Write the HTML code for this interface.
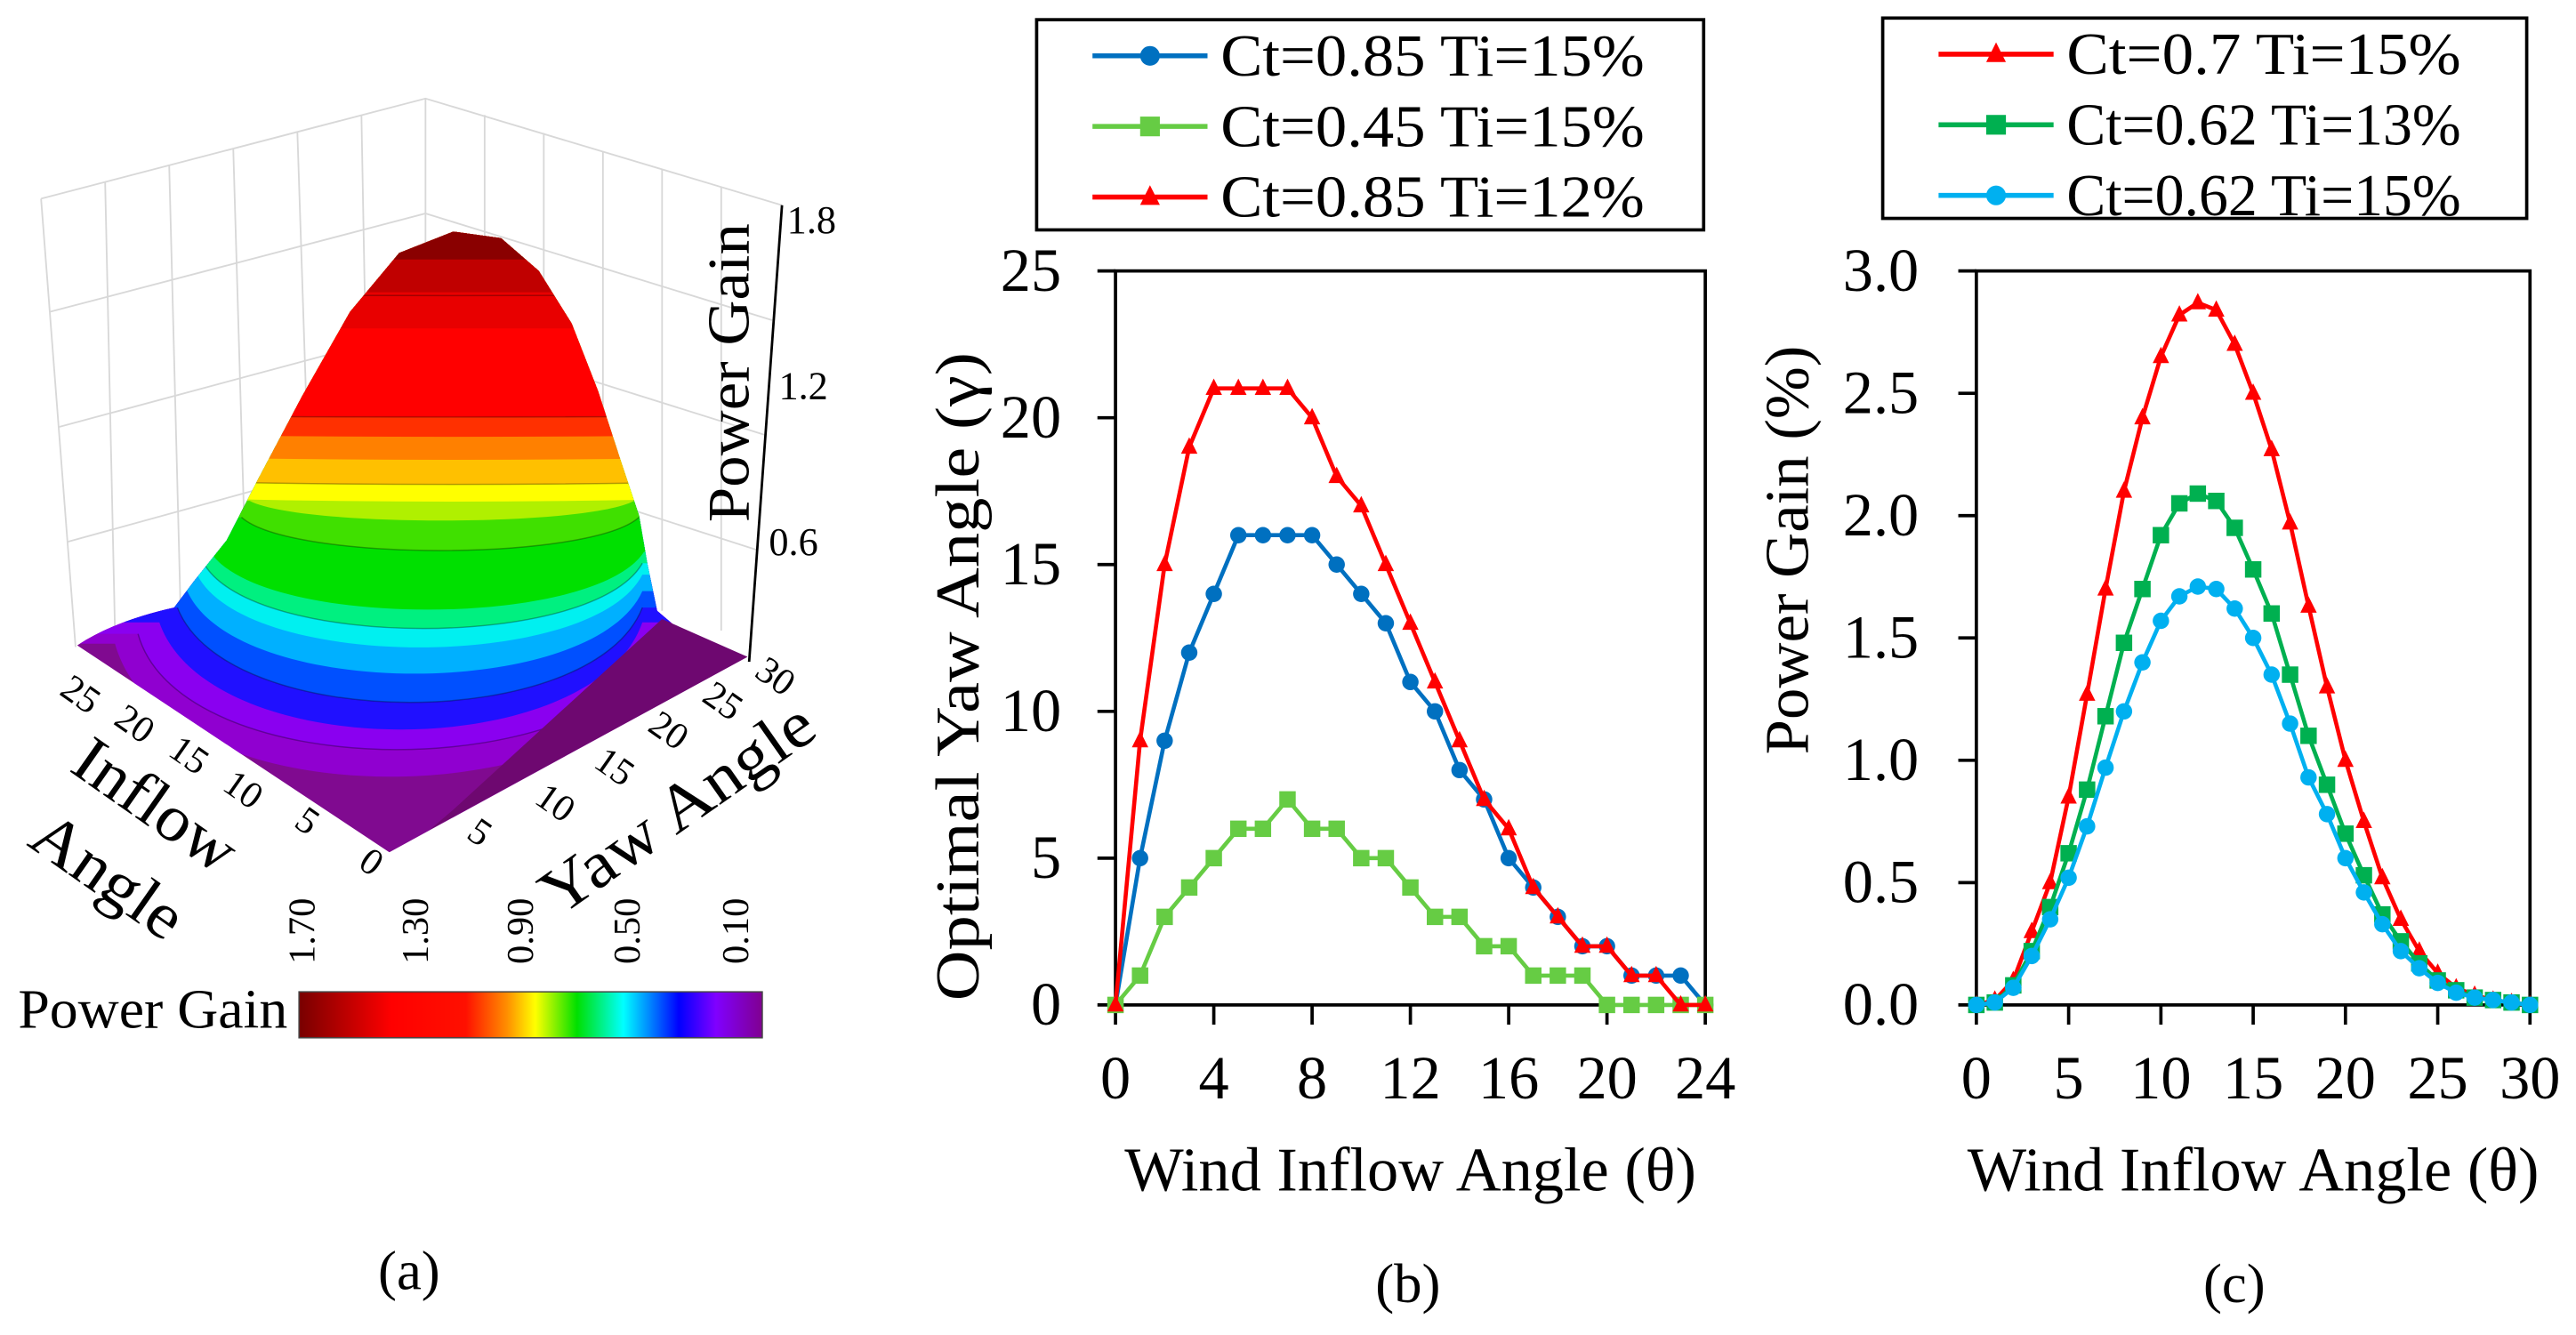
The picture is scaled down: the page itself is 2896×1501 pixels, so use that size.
<!DOCTYPE html>
<html><head><meta charset="utf-8"><style>
html,body{margin:0;padding:0;background:#fff;}
svg{display:block;}
svg text{font-family:"Liberation Serif","DejaVu Serif",serif;}
</style></head><body>
<svg id="fig" width="2896" height="1501" viewBox="0 0 1568 813" preserveAspectRatio="none" xmlns="http://www.w3.org/2000/svg" font-family="Liberation Serif, serif">
<defs>
<linearGradient id="cbar" x1="0" y1="0" x2="1" y2="0">
<stop offset="0" stop-color="#780000"/>
<stop offset="0.2" stop-color="#ff0000"/>
<stop offset="0.36" stop-color="#ff1000"/>
<stop offset="0.45" stop-color="#ff9000"/>
<stop offset="0.51" stop-color="#ffff00"/>
<stop offset="0.6" stop-color="#00e000"/>
<stop offset="0.7" stop-color="#00ffff"/>
<stop offset="0.82" stop-color="#0000ff"/>
<stop offset="0.9" stop-color="#8000ff"/>
<stop offset="1" stop-color="#800090"/>
</linearGradient>
<clipPath id="mclip">
<path d="M47,393 Q70,378 106,370 L118,354 L138,329 L157,292 L184,241 L213,190 L243,154 L276,141 L305,145 L328,165 L348,197 L364,238 L377,278 L389,314 L394,343 L400,372 L413,383 L455,400 L237,519 Z"/>
</clipPath>
</defs>

<!-- Panel a -->
<g>
  <g stroke="#d8d8d8" stroke-width="1" fill="none">
    <polyline points="25,121 259,60 476,125"/>
    <line x1="25" y1="121" x2="46" y2="394"/>
    <line x1="259" y1="60" x2="259" y2="330"/>
    <line x1="64" y1="111" x2="70" y2="385"/><line x1="103" y1="101" x2="110" y2="375"/>
    <line x1="142" y1="91" x2="150" y2="365"/><line x1="181" y1="80" x2="190" y2="355"/>
    <line x1="220" y1="70" x2="225" y2="340"/>
    <line x1="295" y1="70" x2="295" y2="340"/><line x1="331" y1="81" x2="331" y2="350"/>
    <line x1="367" y1="92" x2="367" y2="360"/><line x1="403" y1="103" x2="403" y2="372"/>
    <line x1="439" y1="114" x2="439" y2="384"/>
    <polyline points="30,190 259,130 470,195"/>
    <polyline points="36,260 259,200 466,265"/>
    <polyline points="41,330 259,270 461,335"/>
  </g>
  <g clip-path="url(#mclip)">
    <rect x="0" y="0" width="560" height="560" fill="#800a90"/>
    <path fill="#9000d0" d="M0,392 L70,392 C100,500 370,500 420,392 L560,392 L560,0 L0,0 Z"/>
    <path fill="#8a00f0" d="M0,386 L84,386 C110,480 370,480 408,386 L560,386 L560,0 L0,0 Z"/>
    <path fill="#2010ff" d="M0,379 L97,379 C127,466 361,466 391,379 L560,379 L560,0 L0,0 Z"/>
    <path fill="#0050ff" d="M0,370 L108,370 C138,447 361,447 391,370 L560,370 L560,0 L0,0 Z"/>
    <path fill="#00b0ff" d="M0,360 L114,360 C144,427 361,427 391,360 L560,360 L560,0 L0,0 Z"/>
    <path fill="#00f0f0" d="M0,350 L120,350 C150,409 361,409 391,350 L560,350 L560,0 L0,0 Z"/>
    <path fill="#00f080" d="M0,343 L124,343 C154,396 361,396 391,343 L560,343 L560,0 L0,0 Z"/>
    <path fill="#00e000" d="M0,336 L128,336 C158,383 362,383 392,336 L560,336 L560,0 L0,0 Z"/>
    <path fill="#40e000" d="M0,315 L147,315 C177,342 359,342 389,315 L560,315 L560,0 L0,0 Z"/>
    <path fill="#b0f000" d="M0,305 L152,305 C182,321 356,321 386,305 L560,305 L560,0 L0,0 Z"/>
    <path fill="#ffff00" d="M0,299 Q270,312 560,299 L560,0 L0,0 Z"/>
    <path fill="#ffc000" d="M0,290 Q270,300 560,290 L560,0 L0,0 Z"/>
    <path fill="#ff8000" d="M0,276 Q270,284 560,276 L560,0 L0,0 Z"/>
    <path fill="#ff3000" d="M0,263 Q270,269 560,263 L560,0 L0,0 Z"/>
    <path fill="#ff0000" d="M0,252 Q270,256 560,252 L560,0 L0,0 Z"/>
    <path fill="#e80000" d="M0,200 L560,200 L560,0 L0,0 Z"/>
    <path fill="#c00000" d="M0,178 L560,178 L560,0 L0,0 Z"/>
    <path fill="#8a0000" d="M0,158 L560,158 L560,0 L0,0 Z"/>
    <g stroke="#000" stroke-opacity="0.3" fill="none" stroke-width="0.8">
      <path d="M84,386 C110,480 370,480 408,386"/>
      <path d="M108,370 C138,447 361,447 391,370"/>
      <path d="M124,343 C154,396 361,396 391,343"/>
      <path d="M147,315 C177,342 359,342 389,315"/>
      <path d="M0,290 Q270,300 560,290"/><path d="M0,252 Q270,256 560,252"/>
      <path d="M0,178 Q270,182 560,178"/>
    </g>
  </g>
  <polygon points="276,493 403,377 455,400 262,505" fill="#6e0870"/>
  <line x1="456" y1="403" x2="476" y2="125" stroke="#000" stroke-width="1.5"/>
  <g font-size="24" dominant-baseline="central" text-anchor="middle">
    <text x="494" y="134">1.8</text><text x="489" y="235">1.2</text><text x="483" y="330">0.6</text>
  </g>
  <text transform="translate(444,227) rotate(-90)" text-anchor="middle" dominant-baseline="central" font-size="36" textLength="182" lengthAdjust="spacingAndGlyphs">Power Gain</text>
  <g font-size="23" text-anchor="middle" dominant-baseline="central">
    <text transform="translate(49,423) rotate(35)">25</text>
    <text transform="translate(82,441) rotate(35)">20</text>
    <text transform="translate(115,460) rotate(35)">15</text>
    <text transform="translate(148,481) rotate(35)">10</text>
    <text transform="translate(187,500) rotate(35)">5</text>
    <text transform="translate(226,525) rotate(35)">0</text>
  </g>
  <g font-size="23" text-anchor="middle" dominant-baseline="central">
    <text transform="translate(292,507) rotate(35)">5</text>
    <text transform="translate(338,489) rotate(35)">10</text>
    <text transform="translate(374,467) rotate(35)">15</text>
    <text transform="translate(407,445) rotate(35)">20</text>
    <text transform="translate(440,427) rotate(35)">25</text>
    <text transform="translate(472,412) rotate(35)">30</text>
  </g>
  <text transform="translate(95,490) rotate(35)" text-anchor="middle" dominant-baseline="central" font-size="40" textLength="112" lengthAdjust="spacingAndGlyphs">Inflow</text>
  <text transform="translate(66,533) rotate(35)" text-anchor="middle" dominant-baseline="central" font-size="40" textLength="104" lengthAdjust="spacingAndGlyphs">Angle</text>
  <text transform="translate(412,492) rotate(-35)" text-anchor="middle" dominant-baseline="central" font-size="40" textLength="194" lengthAdjust="spacingAndGlyphs">Yaw Angle</text>
  <rect x="182" y="604" width="282" height="28" fill="url(#cbar)" stroke="#444" stroke-width="0.8"/>
  <g font-size="23" text-anchor="middle" dominant-baseline="central">
    <text transform="translate(184,567) rotate(-90)">1.70</text>
    <text transform="translate(253,567) rotate(-90)">1.30</text>
    <text transform="translate(317,567) rotate(-90)">0.90</text>
    <text transform="translate(382,567) rotate(-90)">0.50</text>
    <text transform="translate(448,567) rotate(-90)">0.10</text>
  </g>
  <text x="11" y="626" font-size="34" textLength="164" lengthAdjust="spacingAndGlyphs">Power Gain</text>
  <text x="249" y="785" text-anchor="middle" font-size="34">(a)</text>
</g>

<g id="chartB"></g>
<g id="chartC"></g>
<text x="857" y="793" text-anchor="middle" font-size="34">(b)</text>
<text x="1360" y="793" text-anchor="middle" font-size="34">(c)</text>
</svg>
<script>
const NS="http://www.w3.org/2000/svg";
const bX=[0,1,2,3,4,5,6,7,8,9,10,11,12,13,14,15,16,17,18,19,20,21,22,23,24];
const bBlue=[0,5,9,12,14,16,16,16,16,15,14,13,11,10,8,7,5,4,3,2,2,1,1,1,0];
const bGreen=[0,1,3,4,5,6,6,7,6,6,5,5,4,3,3,2,2,1,1,1,0,0,0,0,0];
const bRed=[0,9,15,19,21,21,21,21,20,18,17,15,13,11,9,7,6,4,3,2,2,1,1,0,0];
const bXTicks=[0,4,8,12,16,20,24];
const bYTicks=[0,5,10,15,20,25];
const bNames=["Ct=0.85 Ti=15%","Ct=0.45 Ti=15%","Ct=0.85 Ti=12%"];
const cX=[0,1,2,3,4,5,6,7,8,9,10,11,12,13,14,15,16,17,18,19,20,21,22,23,24,25,26,27,28,29,30];
const cRed=[0,0.02,0.1,0.3,0.5,0.85,1.27,1.7,2.1,2.4,2.65,2.82,2.87,2.84,2.7,2.5,2.27,1.97,1.63,1.3,1.0,0.75,0.52,0.35,0.22,0.13,0.07,0.04,0.02,0.01,0];
const cGreen=[0,0.01,0.08,0.22,0.4,0.62,0.88,1.18,1.48,1.7,1.92,2.05,2.09,2.06,1.95,1.78,1.6,1.35,1.1,0.9,0.7,0.53,0.37,0.26,0.17,0.1,0.06,0.03,0.02,0.01,0];
const cCyan=[0,0.01,0.07,0.2,0.35,0.52,0.73,0.97,1.2,1.4,1.57,1.67,1.71,1.7,1.62,1.5,1.35,1.15,0.93,0.78,0.6,0.46,0.33,0.22,0.15,0.09,0.05,0.03,0.02,0.01,0];
const cXTicks=[0,5,10,15,20,25,30];
const cYTicks=[0,0.5,1.0,1.5,2.0,2.5,3.0];
const cNames=["Ct=0.7 Ti=15%","Ct=0.62 Ti=13%","Ct=0.62 Ti=15%"];

function mk(tag,attrs,parent){const e=document.createElementNS(NS,tag);for(const k in attrs)e.setAttribute(k,attrs[k]);parent.appendChild(e);return e;}
const FF="Liberation Serif, serif";
function marker(g,shape,x,y,color,r){
  let m;
  if(shape==="circle"){m=mk("circle",{cx:x,cy:y,r:r,fill:color},g);}
  else if(shape==="square"){m=mk("rect",{x:x-r,y:y-r,width:2*r,height:2*r,fill:color},g);}
  else{m=mk("polygon",{points:`${x},${y-r*1.2} ${x-r},${y+r*0.8} ${x+r},${y+r*0.8}`,fill:color},g);}
  
  
  return m;
}
function chart(g,cfg){
  const sx=v=>cfg.x0+(v-cfg.xmin)/(cfg.xmax-cfg.xmin)*(cfg.x1-cfg.x0);
  const sy=v=>cfg.y0+(v-cfg.ymin)/(cfg.ymax-cfg.ymin)*(cfg.y1-cfg.y0);
  const box=mk("rect",{x:cfg.x0,y:cfg.y1,width:cfg.x1-cfg.x0,height:cfg.y0-cfg.y1,fill:"none",stroke:"#000","stroke-width":2},g);
  
  
  cfg.xt.forEach(t=>{
    const l=mk("line",{x1:sx(t),x2:sx(t),y1:cfg.y0,y2:cfg.y0+12,stroke:"#000","stroke-width":2},g);
    
    
    const tx=mk("text",{x:sx(t),y:cfg.y0+57,"text-anchor":"middle","font-size":37,"font-family":FF},g);
    tx.textContent=t;
    
    
  });
  cfg.yt.forEach(t=>{
    const l=mk("line",{x1:cfg.x0-11,x2:cfg.x0,y1:sy(t),y2:sy(t),stroke:"#000","stroke-width":2},g);
    
    
    const tx=mk("text",{x:cfg.ylx,y:sy(t)+12,"text-anchor":"end","font-size":37,"font-family":FF},g);
    tx.textContent=cfg.fmt(t);
    
    
  });
  const xt=mk("text",{x:(cfg.x0+cfg.x1)/2,y:cfg.y0+113,"text-anchor":"middle","font-size":38,"font-family":FF,textLength:348,lengthAdjust:"spacingAndGlyphs"},g);
  xt.textContent="Wind Inflow Angle (θ)";
  
  
  const yt=mk("text",{transform:`translate(${cfg.ytx},${cfg.yty}) rotate(-90)`,"text-anchor":"middle","dominant-baseline":"central","font-size":38,"font-family":FF,textLength:cfg.ytl,lengthAdjust:"spacingAndGlyphs"},g);
  yt.textContent=cfg.ytitle;
  
  
  cfg.series.forEach(s=>{
    const sg=mk("g",{},g);
    
    
    const pl=mk("polyline",{points:cfg.xs.map((x,i)=>sx(x)+","+sy(s.v[i])).join(" "),fill:"none",stroke:s.c,"stroke-width":2.5},sg);
    
    
    cfg.xs.forEach((x,i)=>marker(sg,s.m,sx(x),sy(s.v[i]),s.c,5));
  });
  const L=cfg.leg;
  const lg=mk("g",{},g);
  
  
  mk("rect",{x:L.x,y:L.y,width:L.w,height:L.h,fill:"#fff",stroke:"#000","stroke-width":2},lg);
  cfg.series.forEach((s,i)=>{
    const cy=L.y+22+i*43;
    const eg=mk("g",{},lg);
    
    
    mk("line",{x1:L.x+34,x2:L.x+104,y1:cy,y2:cy,stroke:s.c,"stroke-width":3},eg);
    marker(eg,s.m,L.x+69,cy,s.c,6);
    const t=mk("text",{x:L.x+112,y:cy+12,"font-size":36,"font-family":FF,textLength:L.tl,lengthAdjust:"spacingAndGlyphs"},eg);
    t.textContent=cfg.names[i];
  });
}
chart(document.getElementById("chartB"),{x0:679,x1:1038,y0:612,y1:165,xmin:0,xmax:24,ymin:0,ymax:25,xs:bX,xt:bXTicks,yt:bYTicks,fmt:t=>String(t),ytitle:"Optimal Yaw Angle (γ)",ytx:583,yty:412,ytl:395,ylx:646,
  names:bNames,leg:{x:631,y:12,w:406,h:128,tl:258},
  series:[{key:"ct085-ti15",v:bBlue,c:"#0070c0",m:"circle"},{key:"ct045-ti15",v:bGreen,c:"#66cc44",m:"square"},{key:"ct085-ti12",v:bRed,c:"#ff0000",m:"triangle"}]});
chart(document.getElementById("chartC"),{x0:1203,x1:1540,y0:612,y1:165,xmin:0,xmax:30,ymin:0,ymax:3,xs:cX,xt:cXTicks,yt:cYTicks,fmt:t=>t.toFixed(1),ytitle:"Power Gain (%)",ytx:1088,yty:335,ytl:249,ylx:1168,
  names:cNames,leg:{x:1146,y:11,w:392,h:122,tl:240},
  series:[{key:"ct07-ti15",v:cRed,c:"#ff0000",m:"triangle"},{key:"ct062-ti13",v:cGreen,c:"#00b050",m:"square"},{key:"ct062-ti15",v:cCyan,c:"#00b0f0",m:"circle"}]});
</script>
</body></html>
